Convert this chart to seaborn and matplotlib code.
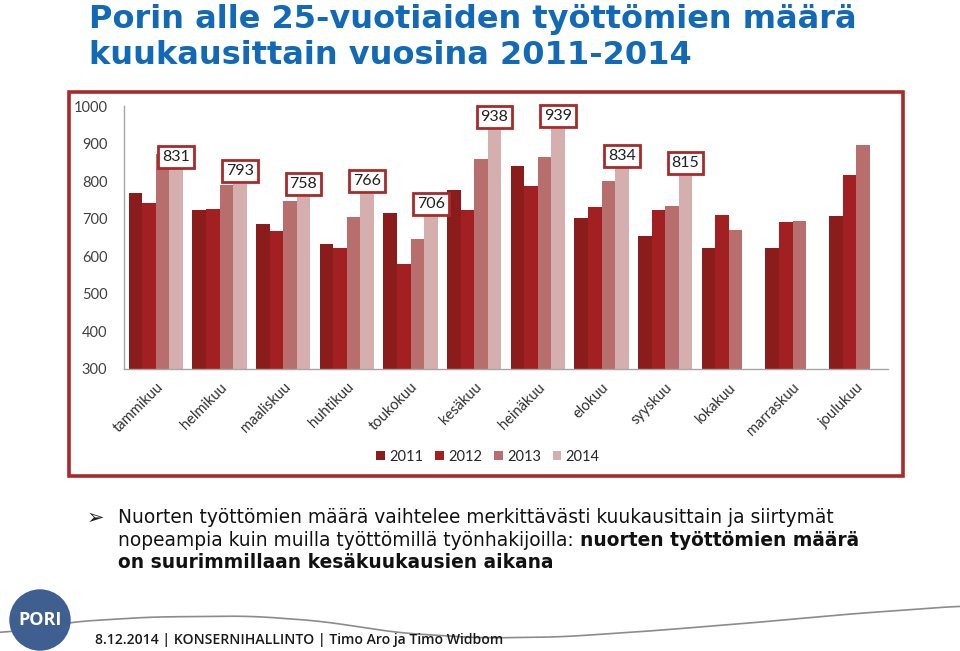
import numpy as np
import pandas as pd
import seaborn as sns
import matplotlib
matplotlib.use("Agg")
import matplotlib.pyplot as plt
from matplotlib.patches import Rectangle, Ellipse
from matplotlib.lines import Line2D
from matplotlib.text import Annotation

# ---------------- data ----------------
months = ["tammikuu", "helmikuu", "maaliskuu", "huhtikuu", "toukokuu", "kesäkuu",
          "heinäkuu", "elokuu", "syyskuu", "lokakuu", "marraskuu", "joulukuu"]
years = ["2011", "2012", "2013", "2014"]
v2011 = [768, 722, 685, 634, 715, 776, 840, 701, 654, 621, 621, 706]
v2012 = [741, 725, 667, 623, 579, 724, 788, 731, 722, 710, 691, 816]
v2013 = [873, 789, 748, 705, 647, 859, 863, 800, 733, 670, 694, 896]
v2014 = [831, 793, 758, 766, 706, 938, 939, 834, 815, np.nan, np.nan, np.nan]
palette = ["#8A1C1C", "#A21F22", "#B96E6E", "#D5AEAE"]

rows = []
for y, vals in zip(years, [v2011, v2012, v2013, v2014]):
    for m, v in zip(months, vals):
        rows.append({"kuukausi": m, "vuosi": y, "määrä": v})
df = pd.DataFrame(rows)

# ---------------- figure ----------------
sns.set_style("white")
plt.rcParams["font.family"] = ["DejaVu Sans"]
W, H = 960, 651
fig = plt.figure(figsize=(W / 100, H / 100), dpi=100)

def fx(px):
    return px / W

def fy(py):
    return 1 - py / H

# chart frame
fig.patches.append(Rectangle((fx(69), fy(476)), fx(903) - fx(69), fy(92) - fy(476),
                             transform=fig.transFigure, fill=False,
                             edgecolor="#A82A2A", lw=2.6, zorder=5))

ax = fig.add_axes([fx(124), fy(369), fx(888) - fx(124), fy(106) - fy(369)])
sns.barplot(data=df, x="kuukausi", y="määrä", hue="vuosi", hue_order=years,
            order=months, palette=palette, width=0.85, gap=0, saturation=1,
            errorbar=None, ax=ax, legend=True, linewidth=0, edgecolor="none")
ax.set_ylim(300, 1000)
ax.set_xlim(-0.5, 11.5)
ax.set_yticks(range(300, 1001, 100))
ax.set_xlabel("")
ax.set_ylabel("")
for s in ["top", "right"]:
    ax.spines[s].set_visible(False)
for s in ["left", "bottom"]:
    ax.spines[s].set_color("#A6A6A6")
    ax.spines[s].set_linewidth(1.0)
ax.tick_params(axis="both", length=0)
ax.tick_params(axis="y", pad=12, labelsize=10.5, labelcolor="#404040")
for lab in ax.get_yticklabels():
    lab.set_fontfamily("Lato")
ax.set_xticks(range(len(months)))
ax.set_xticklabels(months, rotation=45, ha="right", rotation_mode="anchor",
                   fontsize=10.5, color="#303030", family="Lato")
ax.tick_params(axis="x", pad=8)

# value boxes above 2014 bars
bars14 = ax.containers[3]
for bar, val in zip(bars14, v2014):
    if np.isnan(val):
        continue
    cx = bar.get_x() + bar.get_width() / 2
    ax.annotate(f"{int(val)}", xy=(cx, val), xytext=(0, 4), textcoords="offset points",
                ha="center", va="bottom", fontsize=11.5, family="Lato", color="#202020",
                annotation_clip=False,
                bbox=dict(boxstyle="square,pad=0.25", fc="white", ec="#A82A2A", lw=2))

# legend
handles, labels = ax.get_legend_handles_labels()
ax.get_legend().remove()
fig.legend(handles, labels, loc="center", bbox_to_anchor=(fx(488), fy(457)),
           ncol=4, frameon=False, handlelength=0.6, handleheight=0.6,
           handletextpad=0.3, columnspacing=0.8, prop={"family": "Lato", "size": 10.5})

# title
title_color = "#1269B5"
fig.text(fx(89), fy(28), "Porin alle 25-vuotiaiden työttömien määrä", fontsize=23,
         fontweight="bold", color=title_color, va="baseline", ha="left")
fig.text(fx(89), fy(64), "kuukausittain vuosina 2011-2014", fontsize=23,
         fontweight="bold", color=title_color, va="baseline", ha="left")

# bullet text
fs = 13.4
tc = "#111111"
fig.text(fx(87), fy(524), "➢", fontsize=15, color="#202020", va="baseline", ha="left")
fig.text(fx(118), fy(523), "Nuorten työttömien määrä vaihtelee merkittävästi kuukausittain ja siirtymät",
         fontsize=fs, color=tc, va="baseline", ha="left")
t2 = fig.text(fx(118), fy(546), "nopeampia kuin muilla työttömillä työnhakijoilla: ",
              fontsize=fs, color=tc, va="baseline", ha="left")
fig.add_artist(Annotation("nuorten työttömien määrä", xy=(1, 0), xycoords=t2,
                          xytext=(0, 0), textcoords="offset points", fontsize=fs,
                          fontweight="bold", color=tc, va="bottom", ha="left"))
fig.text(fx(118), fy(568), "on suurimmillaan kesäkuukausien aikana", fontsize=fs,
         fontweight="bold", color=tc, va="baseline", ha="left")

# footer wave line
wx = np.array([0, 40, 70, 150, 250, 320, 400, 480, 560, 650, 750, 850, 960])
wy = np.array([633, 628, 622, 617, 616, 621, 633, 638, 637, 631, 623, 614, 606])
xs = np.linspace(0, 960, 300)
ys = np.interp(xs, wx, wy)
k = np.ones(15) / 15
ys = np.convolve(np.pad(ys, 7, mode="edge"), k, mode="valid")
fig.add_artist(Line2D(fx(xs), fy(ys), transform=fig.transFigure, color="#8C8C8C",
                      lw=1.2, zorder=1))

# logo
fig.patches.append(Ellipse((fx(40), fy(620)), width=60 / W, height=60 / H,
                           transform=fig.transFigure, color="#3E5F8F", zorder=6))
fig.text(fx(40), fy(620), "PORI", color="white", fontsize=13, fontweight="bold",
         family="Open Sans", ha="center", va="center", zorder=7)

fig.text(fx(95), fy(644), "8.12.2014 | KONSERNIHALLINTO | Timo Aro ja Timo Widbom",
         fontsize=10.1, fontweight="semibold", family="Open Sans", color="#1A1A1A",
         va="baseline", ha="left")

fig.savefig("out.png", dpi=100)
